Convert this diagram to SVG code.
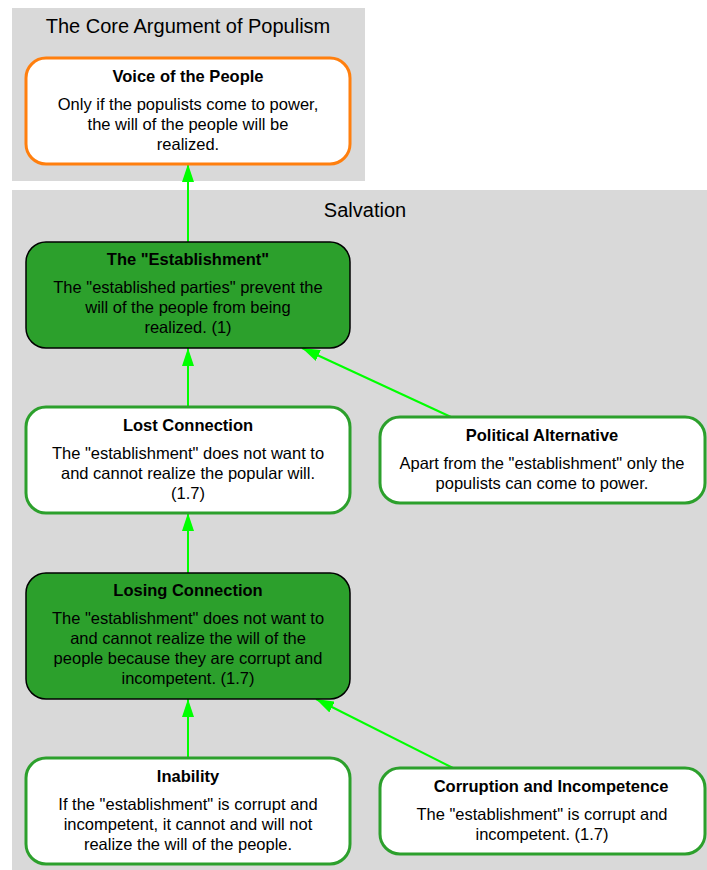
<svg xmlns="http://www.w3.org/2000/svg" width="707" height="870" viewBox="0 0 707 870">
<defs>
<marker id="arr" viewBox="0 0 18 12" refX="18" refY="6" markerWidth="18" markerHeight="12" markerUnits="userSpaceOnUse" orient="auto">
<path d="M0,0 L18,6 L0,12 z" fill="#00ff00"/>
</marker>
<style>
text{font-family:"Liberation Sans",Arial,sans-serif;fill:#000;text-anchor:middle}
.cl{fill:#d9d9d9;stroke:none}
.ct{font-size:20px}
.t{font-size:16.5px;font-weight:bold}
.b{font-size:16.5px}
.orange{fill:#fff;stroke:#ff7f0e;stroke-width:3}
.white{fill:#fff;stroke:#2ca02c;stroke-width:3}
.dark{fill:#2ca02c;stroke:#000;stroke-width:1.5}
.e{stroke:#00ff00;stroke-width:2;fill:none;marker-end:url(#arr)}
</style>
</defs>
<rect width="707" height="870" fill="#fff"/>
<g id="cluster-core">
<rect class="cl" x="12" y="8" width="353" height="173"/>
<text class="ct" x="188" y="33">The Core Argument of Populism</text>
</g>
<g id="cluster-salvation">
<rect class="cl" x="12" y="190" width="706" height="680"/>
<text class="ct" x="365" y="217">Salvation</text>
</g>
<g id="connectors">
<line class="e" x1="188" y1="242" x2="188" y2="164"/>
<line class="e" x1="188" y1="407" x2="188" y2="348"/>
<line class="e" x1="451" y1="417" x2="302" y2="348"/>
<line class="e" x1="188" y1="573" x2="188" y2="513"/>
<line class="e" x1="188" y1="758" x2="188" y2="699"/>
<line class="e" x1="453" y1="768" x2="316" y2="699"/>
</g>
<g id="voice">
<rect class="orange" x="26" y="58" width="324" height="106" rx="20"/>
<text class="t" x="188" y="82">Voice of the People</text>
<text class="b" x="188" y="110">Only if the populists come to power,</text>
<text class="b" x="188" y="130">the will of the people will be</text>
<text class="b" x="188" y="150">realized.</text>
</g>
<g id="establishment">
<rect class="dark" x="26" y="242" width="324" height="106" rx="20"/>
<text class="t" x="188" y="265">The "Establishment"</text>
<text class="b" x="188" y="293">The "established parties" prevent the</text>
<text class="b" x="188" y="313">will of the people from being</text>
<text class="b" x="188" y="333">realized. (1)</text>
</g>
<g id="lost">
<rect class="white" x="26" y="407" width="324" height="106" rx="20"/>
<text class="t" x="188" y="431">Lost Connection</text>
<text class="b" x="188" y="459">The "establishment" does not want to</text>
<text class="b" x="188" y="479">and cannot realize the popular will.</text>
<text class="b" x="188" y="499">(1.7)</text>
</g>
<g id="political">
<rect class="white" x="380" y="417" width="325" height="86" rx="20"/>
<text class="t" x="542" y="441">Political Alternative</text>
<text class="b" x="542" y="469">Apart from the "establishment" only the</text>
<text class="b" x="542" y="489">populists can come to power.</text>
</g>
<g id="losing">
<rect class="dark" x="26" y="573" width="324" height="126" rx="20"/>
<text class="t" x="188" y="596">Losing Connection</text>
<text class="b" x="188" y="624">The "establishment" does not want to</text>
<text class="b" x="188" y="644">and cannot realize the will of the</text>
<text class="b" x="188" y="664">people because they are corrupt and</text>
<text class="b" x="188" y="684">incompetent. (1.7)</text>
</g>
<g id="inability">
<rect class="white" x="26" y="758" width="324" height="106" rx="20"/>
<text class="t" x="188" y="782">Inability</text>
<text class="b" x="188" y="810">If the "establishment" is corrupt and</text>
<text class="b" x="188" y="830">incompetent, it cannot and will not</text>
<text class="b" x="188" y="850">realize the will of the people.</text>
</g>
<g id="corruption">
<rect class="white" x="380" y="768" width="325" height="86" rx="20"/>
<text class="t" x="551" y="792">Corruption and Incompetence</text>
<text class="b" x="542" y="820">The "establishment" is corrupt and</text>
<text class="b" x="542" y="840">incompetent. (1.7)</text>
</g>
</svg>
